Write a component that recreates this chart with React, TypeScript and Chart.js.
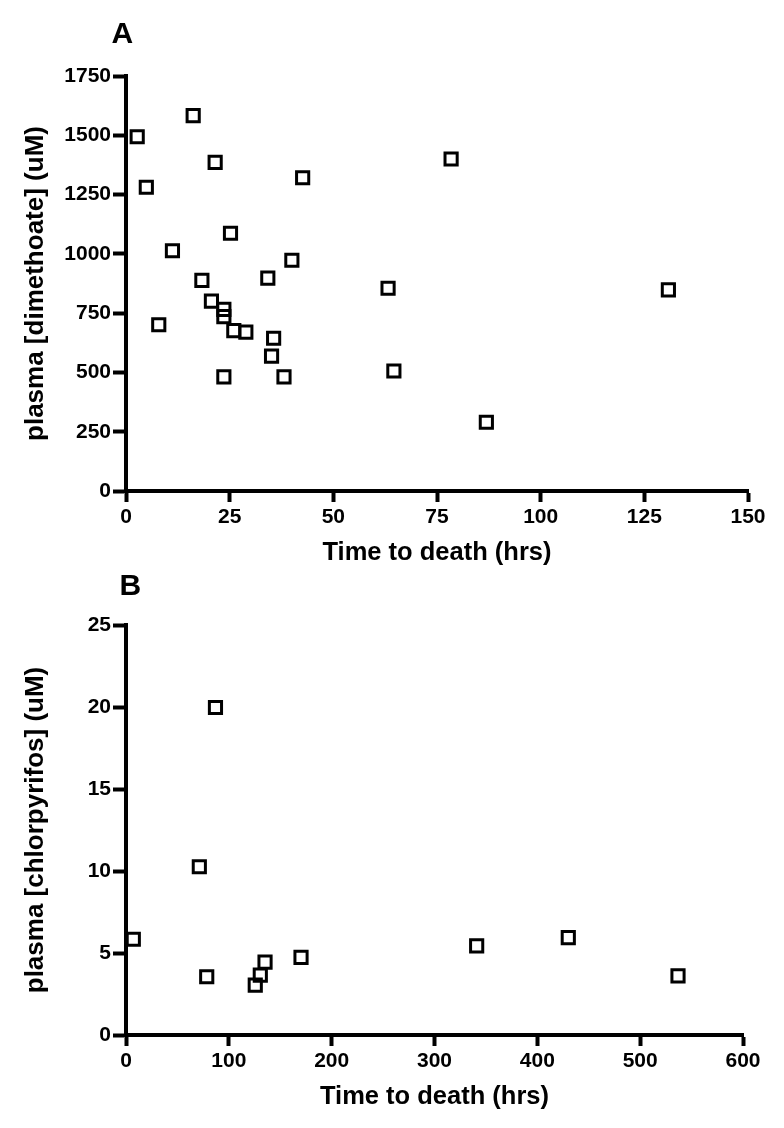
import React, { useEffect, useRef } from "react";
import { Chart, registerables } from "chart.js";

Chart.register(...registerables);

// Panel A: dimethoate
const timeA = [2.7, 16.2, 21.5, 4.9, 42.6, 78.4, 25.2, 11.2, 40.0, 18.3, 34.2, 63.2, 20.6, 23.6, 23.6, 7.9, 26.0, 28.9, 35.6, 35.1, 23.6, 38.1, 64.6, 86.9, 130.8];
const concA = [1494, 1583, 1386, 1281, 1321, 1400, 1087, 1013, 973, 888, 898, 855, 801, 766, 735, 701, 676, 670, 644, 569, 481, 481, 506, 290, 848];
const xTicksA = [0, 25, 50, 75, 100, 125, 150];
const yTicksA = [0, 250, 500, 750, 1000, 1250, 1500, 1750];

// Panel B: chlorpyrifos
const timeB = [7.1, 71.3, 87, 78.5, 125.7, 130.6, 135.2, 170.2, 341, 430.1, 536.8];
const concB = [5.84, 10.26, 19.97, 3.55, 3.04, 3.65, 4.44, 4.73, 5.43, 5.94, 3.61];
const xTicksB = [0, 100, 200, 300, 400, 500, 600];
const yTicksB = [0, 5, 10, 15, 20, 25];

const FONT = "'Liberation Sans', Arial, Helvetica, sans-serif";

type PanelProps = {
  xs: number[];
  ys: number[];
  xTicks: number[];
  yTicks: number[];
  yTitle: string;
  top: number;
  height: number;
  padTop: number;
  padRight: number;
  padBottom: number;
};

function Panel(p: PanelProps) {
  const ref = useRef<HTMLCanvasElement | null>(null);
  useEffect(() => {
    if (!ref.current) return;
    const data = p.xs.map((x, i) => ({ x, y: p.ys[i] }));
    const tickFont = { family: FONT, size: 21, weight: "bold" as const };
    const titleFont = { family: FONT, size: 26, weight: "bold" as const };
    const xStep = p.xTicks[1] - p.xTicks[0];
    const yStep = p.yTicks[1] - p.yTicks[0];
    const chart = new Chart(ref.current, {
      type: "scatter",
      data: {
        datasets: [
          {
            data,
            pointStyle: "rect",
            pointRadius: 8.6,
            pointHoverRadius: 8.6,
            borderWidth: 3,
            pointBorderWidth: 3,
            borderColor: "#000",
            pointBorderColor: "#000",
            backgroundColor: "rgba(0,0,0,0)",
            pointBackgroundColor: "rgba(0,0,0,0)",
            clip: false as any,
          },
        ],
      },
      options: {
        animation: false,
        responsive: true,
        maintainAspectRatio: false,
        layout: {
          padding: { top: p.padTop, right: p.padRight, bottom: p.padBottom, left: 0 },
        },
        plugins: { legend: { display: false }, tooltip: { enabled: false } },
        scales: {
          x: {
            type: "linear",
            min: p.xTicks[0],
            max: p.xTicks[p.xTicks.length - 1],
            afterFit: (s: any) => {
              s.height = 80;
            },
            ticks: {
              stepSize: xStep,
              color: "#000",
              font: tickFont,
              padding: 3,
              maxRotation: 0,
              callback: (v: any) => String(v),
            },
            grid: {
              drawOnChartArea: false,
              drawTicks: true,
              tickLength: 11,
              tickWidth: 4,
              tickColor: "#000",
              color: "#000",
            },
            border: { display: true, color: "#000", width: 4 },
            title: {
              display: true,
              text: "Time to death (hrs)",
              color: "#000",
              font: { family: FONT, size: 25.5, weight: "bold" as const },
              padding: { top: 0, bottom: 3 },
            },
          },
          y: {
            type: "linear",
            min: p.yTicks[0],
            max: p.yTicks[p.yTicks.length - 1],
            afterFit: (s: any) => {
              s.width = 126;
            },
            ticks: {
              stepSize: yStep,
              color: "#000",
              font: tickFont,
              padding: 2,
              callback: (v: any) => String(v),
            },
            grid: {
              drawOnChartArea: false,
              drawTicks: true,
              tickLength: 13,
              tickWidth: 4,
              tickColor: "#000",
              color: "#000",
            },
            border: { display: true, color: "#000", width: 4 },
            title: {
              display: true,
              text: p.yTitle,
              color: "#000",
              font: titleFont,
              padding: { top: 20, bottom: 0 },
            },
          },
        },
      },
    });
    return () => chart.destroy();
  }, []);
  return (
    <div
      style={{
        position: "absolute",
        left: 0,
        top: p.top,
        width: 784,
        height: p.height,
      }}
    >
      <canvas ref={ref} />
    </div>
  );
}

export default function App() {
  const letter: React.CSSProperties = {
    position: "absolute",
    fontFamily: FONT,
    fontWeight: "bold",
    fontSize: 30,
    lineHeight: "30px",
    color: "#000",
  };
  return (
    <div
      style={{
        position: "absolute",
        left: 0,
        top: 0,
        width: 784,
        height: 1128,
        background: "#fff",
        overflow: "hidden",
      }}
    >
      <Panel
        xs={timeA}
        ys={concA}
        xTicks={xTicksA}
        yTicks={yTicksA}
        yTitle="plasma [dimethoate] (uM)"
        top={0}
        height={571}
        padTop={76}
        padRight={36}
        padBottom={0}
      />
      <Panel
        xs={timeB}
        ys={concB}
        xTicks={xTicksB}
        yTicks={yTicksB}
        yTitle="plasma [chlorpyrifos] (uM)"
        top={571}
        height={545}
        padTop={54}
        padRight={41}
        padBottom={1}
      />
      <div style={{ ...letter, left: 111.5, top: 18 }}>A</div>
      <div style={{ ...letter, left: 119.5, top: 569.5 }}>B</div>
    </div>
  );
}
